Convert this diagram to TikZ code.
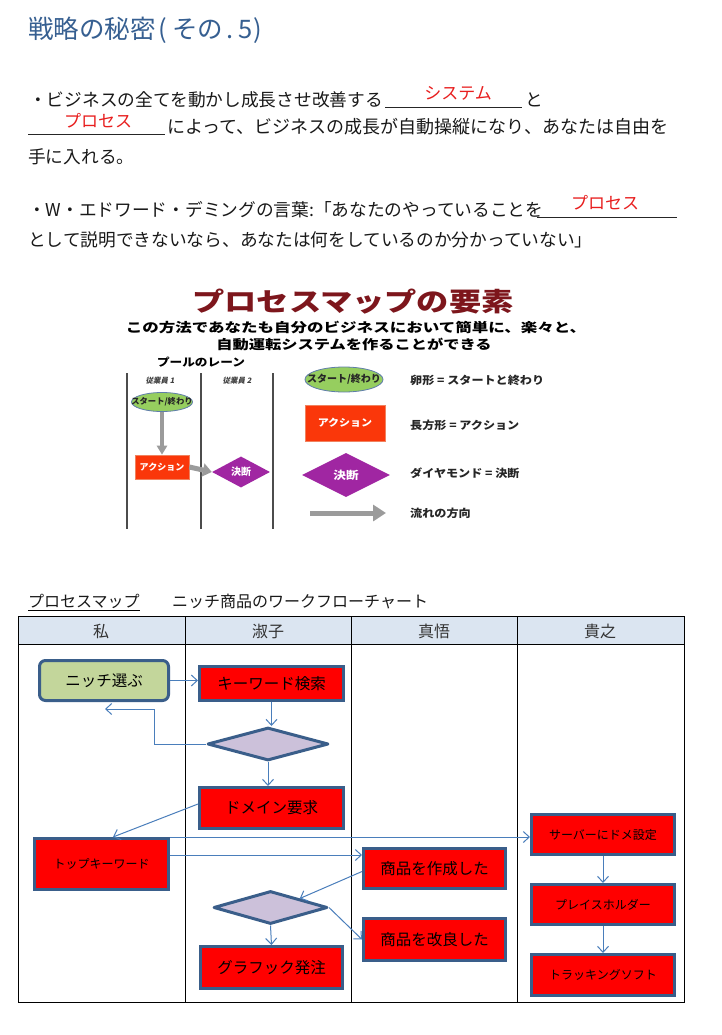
\documentclass[tikz,border=0pt]{standalone}
\usepackage{graphicx}
\usepackage{fontspec}
\setmainfont{Noto Sans CJK JP}
\newfontfamily\jpit[FakeSlant=0.2]{Noto Sans CJK JP}
\usetikzlibrary{shapes.geometric,arrows.meta,calc}
\newcommand\myfs[1]{\fontsize{#1}{#1}\selectfont}
\definecolor{headblue}{RGB}{54,95,145}
\definecolor{wordred}{RGB}{232,30,30}
\definecolor{titred}{RGB}{125,22,28}
\definecolor{cgreen}{RGB}{150,206,95}
\definecolor{cborder}{RGB}{95,125,170}
\definecolor{cact}{RGB}{250,55,10}
\definecolor{cactb}{RGB}{240,130,95}
\definecolor{cpurple}{RGB}{160,38,162}
\definecolor{cgray}{RGB}{155,155,155}
\definecolor{fborder}{RGB}{58,94,138}
\definecolor{fred}{RGB}{255,0,0}
\definecolor{fgreen}{RGB}{195,214,155}
\definecolor{flav}{RGB}{204,193,218}
\definecolor{fline}{RGB}{74,126,187}
\definecolor{hdr}{RGB}{219,229,241}
\begin{document}
\begin{tikzpicture}[x=1pt,y=-1pt,
  txt/.style={inner sep=0pt, anchor=west, font=\myfs{17.7}, text=black!90},
  redw/.style={inner sep=0pt, text=wordred, font=\myfs{17}},
  uline/.style={line width=0.7pt, black!85},
  lane/.style={draw=black!70, line width=1.3pt},
  lgtxt/.style={inner sep=0pt, anchor=west, font=\bfseries\myfs{11}, text=black!85},
  pstart/.style={ellipse, fill=cgreen, draw=cborder, line width=0.8pt, inner sep=0pt},
  pactbox/.style={rectangle, fill=cact, draw=cactb, line width=0.6pt, inner sep=0pt, text=white},
  pdec/.style={diamond, fill=cpurple, inner sep=0pt},
  garrow/.style={draw=cgray, line width=#1},
  fbox/.style={rectangle, draw=fborder, line width=3pt, fill=fred, inner sep=0pt, font=\myfs{15.5}},
  fsmall/.style={fbox, font=\myfs{12}},
  fstart/.style={fbox, fill=fgreen, rounded corners=6pt},
  fdec/.style={diamond, draw=fborder, line width=3pt, line join=round, fill=flav, inner sep=0pt},
  conn/.style={draw=fline, line width=1pt, -{Straight Barb[length=6pt,width=11pt]}},
  tline/.style={draw=black, line width=1pt},
  hdtxt/.style={inner sep=0pt, font=\myfs{16}, text=black!80}
]
\fill[white] (0,0) rectangle (721,1035);
\useasboundingbox (0,0) rectangle (721,1035);

% ---------- title ----------
\node[anchor=west, inner sep=0pt, text=headblue, font=\myfs{25.5}] (title) at (28,30) {戦略の秘密\hspace{3pt}(\hspace{5pt}その\hspace{3pt}.\hspace{5pt}5\hspace{1pt})};

% ---------- paragraph 1 ----------
\node[txt] (l1a) at (29,100) {・ビジネスの全てを動かし成長させ改善する};
\draw[uline] (385,107) -- (522,107);
\node[redw] (w1) at (458,93) {システム};
\node[txt] (l1b) at (525,100) {と};
\draw[uline] (28,134) -- (165,134);
\node[redw] (w2) at (98,121) {プロセス};
\node[txt, font=\myfs{18}] (l2) at (167,127) {によって、ビジネスの成長が自動操縦になり、あなたは自由を};
\node[txt] (l3) at (28,157) {手に入れる。};

% ---------- paragraph 2 ----------
\node[txt] (l4) at (28,210) {・W・エドワード・デミングの言葉:「あなたのやっていることを};
\draw[uline] (537,217) -- (677,217);
\node[redw] (w3) at (605,203) {プロセス};
\node[txt] (l5) at (28,240) {として説明できないなら、あなたは何をしているのか分かっていない」};

% ---------- process map elements picture ----------
\node[inner sep=0pt, font=\bfseries\myfs{26}, text=titred] (ptitle) at (353,302) {\scalebox{1.24}[1]{プロセスマップの要素}};
\node[inner sep=0pt, font=\bfseries\myfs{13}] (psub1) at (356,327) {\scalebox{1.27}[1]{この方法であなたも自分のビジネスにおいて簡単に、楽々と、}};
\node[inner sep=0pt, font=\bfseries\myfs{13}] (psub2) at (354,344) {\scalebox{1.25}[1]{自動運転システムを作ることができる}};
\node[inner sep=0pt, font=\bfseries\myfs{11}] (pool) at (201,362) {\scalebox{1.15}[1]{プールのレーン}};

\coordinate (ln1t) at (127,373); \coordinate (ln1b) at (127,529);
\coordinate (ln2t) at (201,373); \coordinate (ln2b) at (201,529);
\coordinate (ln3t) at (273,373); \coordinate (ln3b) at (273,529);
\draw[lane] (ln1t) -- (ln1b);
\draw[lane] (ln2t) -- (ln2b);
\draw[lane] (ln3t) -- (ln3b);
\node[inner sep=0pt, font=\jpit\bfseries\myfs{7.5}, text=black!75] (emp1) at (160,381) {従業員 1};
\node[inner sep=0pt, font=\jpit\bfseries\myfs{7.5}, text=black!75] (emp2) at (237,381) {従業員 2};

\node[pstart, minimum width=61pt, minimum height=19pt] (e1) at (162,402) {};
\node[inner sep=0pt, font=\bfseries\myfs{8.3}, text=black!85] (e1t) at (e1) {スタート/終わり};
\node[pactbox, minimum width=54pt, minimum height=24pt, font=\bfseries\myfs{9}] (a1) at (162,467) {アクション};
\node[pdec, minimum width=58pt, minimum height=31pt] (d3) at (241,472) {};
\node[inner sep=0pt, font=\bfseries\myfs{10}, text=white] (d3t) at (d3) {決断};
\draw[garrow=3.5pt, -{Triangle[length=9pt,width=10pt]}] (e1.south) -- (a1.north);
\draw[garrow=5pt, -{Triangle[length=9pt,width=13pt]}] (a1.east) -- (d3.west);

% legend
\node[pstart, minimum width=78pt, minimum height=25pt] (e2) at (344,379.5) {};
\node[inner sep=0pt, font=\bfseries\myfs{10}, text=black!85] (e2t) at (e2) {スタート/終わり};
\node[pactbox, minimum width=80pt, minimum height=36pt, font=\bfseries\myfs{10}] (r2) at (345,423) {\scalebox{1.1}[1]{アクション}};
\node[pdec, minimum width=88pt, minimum height=44pt] (d4) at (346,475) {};
\node[inner sep=0pt, font=\bfseries\myfs{11}, text=white] (d4t) at (d4) {\scalebox{1.15}[1]{決断}};
\coordinate (la1) at (310,513);
\coordinate (la2) at (386,513);
\draw[garrow=5pt, -{Triangle[length=13pt,width=16pt]}] (la1) -- (la2);
\node[lgtxt] (lg1) at (410,380) {\scalebox{1.1}[1]{卵形 = スタートと終わり}};
\node[lgtxt] (lg2) at (410,425) {\scalebox{1.1}[1]{長方形 = アクション}};
\node[lgtxt] (lg3) at (410,473) {\scalebox{1.1}[1]{ダイヤモンド = 決断}};
\node[lgtxt] (lg4) at (410,513) {\scalebox{1.1}[1]{流れの方向}};

% ---------- caption ----------
\node[txt, font=\myfs{16}] (cap1) at (28,601) {プロセスマップ};
\draw[line width=0.7pt] (28,610) -- (140,610);
\node[txt, font=\myfs{16}] (cap2) at (172,601) {ニッチ商品のワークフローチャート};

% ---------- table ----------
\fill[hdr] (18,616) rectangle (684,644);
\draw[tline] (18,616) rectangle (684,1002);
\draw[tline] (18,644) -- (684,644);
\draw[tline] (185,616) -- (185,1002);
\draw[tline] (351,616) -- (351,1002);
\draw[tline] (517,616) -- (517,1002);
\node[hdtxt] (h1) at (101,631) {私};
\node[hdtxt] (h2) at (268,631) {淑子};
\node[hdtxt] (h3) at (434,631) {真悟};
\node[hdtxt] (h4) at (600,631) {貴之};

% ---------- flowchart nodes ----------
\node[fstart, minimum width=129pt, minimum height=40pt] (niche) at (104,680.5) {ニッチ選ぶ};
\node[fbox, minimum width=144pt, minimum height=34pt] (kw) at (271.5,683.5) {キーワード検索};
\node[fdec, minimum width=121pt, minimum height=33pt] (d1) at (268,744) {};
\node[fbox, minimum width=144pt, minimum height=41pt] (dom) at (271.5,808) {ドメイン要求};
\node[fsmall, minimum width=134pt, minimum height=51pt] (tk) at (101.5,864) {トップキーワード};
\node[fbox, minimum width=142pt, minimum height=40pt] (sak) at (434.5,868.5) {商品を作成した};
\node[fdec, minimum width=114pt, minimum height=33pt] (d2) at (270.5,907.5) {};
\node[fbox, minimum width=142pt, minimum height=42pt] (kai) at (434.5,939.5) {商品を改良した};
\node[fbox, minimum width=142pt, minimum height=42pt] (gra) at (271.5,967.5) {グラフック発注};
\node[fsmall, minimum width=143pt, minimum height=40pt] (srv) at (603,834.5) {サーバーにドメ設定};
\node[fsmall, minimum width=143pt, minimum height=40pt] (plc) at (603,904.5) {プレイスホルダー};
\node[fsmall, minimum width=143pt, minimum height=41pt] (trk) at (603,975) {トラッキングソフト};
\coordinate (back) at (105,709);

% ---------- connectors ----------
\draw[conn] (niche.east) -- (niche.east -| kw.west);
\draw[conn] (kw.south) -- (kw.south |- d1.north);
\draw[conn] (d1.west) -- ++(-52,0) |- (back);
\draw[conn] (d1.south) -- (d1.south |- dom.north);
\draw[conn] ([yshift=4pt]dom.west) -- ([xshift=11.5pt]tk.north);
\draw[conn] (tk.north east) -- (tk.north east -| srv.west);
\draw[conn] ([yshift=9pt]tk.east) -- ([yshift=9pt]tk.east -| sak.west);
\draw[conn] ([yshift=-3pt]sak.west) -- (d2.north east);
\draw[conn] (d2.east) -- (kai.west);
\draw[conn] (d2.south) -- (gra.north);
\draw[conn] (srv.south) -- (plc.north);
\draw[conn] (plc.south) -- (trk.north);
\end{tikzpicture}
\end{document}
